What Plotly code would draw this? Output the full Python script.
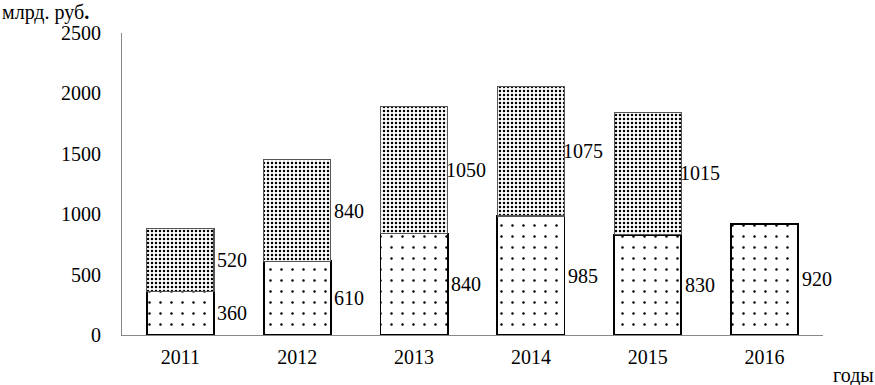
import plotly.graph_objects as go

years = ["2011", "2012", "2013", "2014", "2015", "2016"]
lower_vals = [360, 610, 840, 985, 830, 920]
upper_vals = [520, 840, 1050, 1075, 1015, None]
y_ticks = [0, 500, 1000, 1500, 2000, 2500]

FONT = "Liberation Serif, Times New Roman, serif"
FS = 20

fig = go.Figure()
fig.add_trace(go.Bar(
    x=years, y=lower_vals, width=0.575,
    marker=dict(color="white", line=dict(color="black", width=1.8),
                pattern=dict(shape=".", size=11, solidity=0.04,
                             fgcolor="black", bgcolor="white", fillmode="replace")),
    showlegend=False, hoverinfo="skip",
))
fig.add_trace(go.Bar(
    x=years, y=upper_vals, width=0.575,
    marker=dict(color="white", line=dict(color="#555555", width=1.2),
                pattern=dict(shape=".", size=4, solidity=0.3,
                             fgcolor="black", bgcolor="white", fillmode="replace")),
    showlegend=False, hoverinfo="skip",
))

annotations = []
for i, yr in enumerate(years):
    lo = lower_vals[i]
    annotations.append(dict(x=i, y=lo / 2, text=str(lo), showarrow=False,
                            xshift=52, font=dict(family=FONT, size=FS, color="black")))
    up = upper_vals[i]
    if up is not None:
        annotations.append(dict(x=i, y=lo + up / 2, text=str(up), showarrow=False,
                                xshift=52, font=dict(family=FONT, size=FS, color="black")))

annotations.append(dict(xref="paper", yref="paper", x=-0.174, y=1.0, yshift=21,
                        xanchor="left", yanchor="middle", text="млрд. руб<b>.</b>",
                        showarrow=False, font=dict(family=FONT, size=FS, color="black")))
annotations.append(dict(xref="paper", yref="paper", x=1.0, y=0, yshift=-40, xshift=8,
                        xanchor="left", yanchor="middle", text="годы",
                        showarrow=False, font=dict(family=FONT, size=FS, color="black")))

fig.update_layout(
    barmode="stack",
    width=875, height=385,
    margin=dict(l=122, r=52, t=33, b=50),
    paper_bgcolor="white", plot_bgcolor="white",
    font=dict(family=FONT, size=FS, color="black"),
    annotations=annotations,
    xaxis=dict(type="category", range=[-0.5, 5.5], showgrid=False, automargin=False,
               showline=True, linecolor="#888888", linewidth=1,
               ticks="outside", ticklen=4, tickcolor="rgba(0,0,0,0)",
               tickfont=dict(family=FONT, size=FS, color="black")),
    yaxis=dict(range=[0, 2500], tickvals=y_ticks, showgrid=False, zeroline=False,
               automargin=False,
               showline=True, linecolor="#888888", linewidth=1,
               ticks="outside", ticklen=16, tickcolor="rgba(0,0,0,0)",
               tickfont=dict(family=FONT, size=FS, color="black")),
)

fig.write_html("out.html", config={"displayModeBar": False},
               post_script="document.body.style.margin='0';document.body.style.overflow='hidden';")
